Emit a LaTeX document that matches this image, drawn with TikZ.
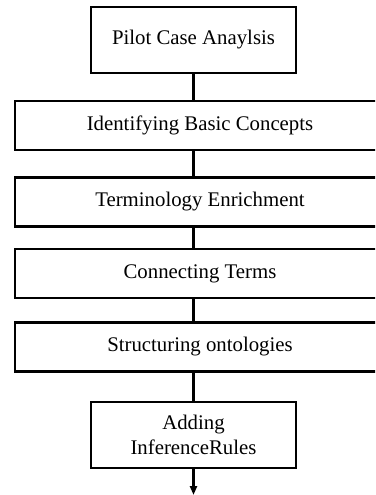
\documentclass[tikz,border=0pt]{standalone}
\usepackage{fontspec}
\setmainfont{Liberation Serif}
\usetikzlibrary{arrows.meta}

\tikzset{
  stage/.style={draw=black, line width=2.6pt, fill=white, inner sep=0pt,
    align=center, font=\fontsize{20.8}{25}\selectfont},
  narrowstage/.style={stage, minimum width=205pt, minimum height=66pt},
  widestage/.style={stage, minimum width=370pt, minimum height=49pt},
  link/.style={draw=black, line width=2.2pt},
  outlink/.style={link, -{Triangle[length=9pt,width=7pt]}}
}

\begin{document}
\begin{tikzpicture}[x=1pt, y=-1pt]
  \useasboundingbox (0,0) rectangle (375,495);
  \clip (0,0) rectangle (375,495);

  % process stages, top to bottom
  \node[narrowstage] (pilot)  at (193.5,40)  {Pilot Case Anaylsis};
  \node[widestage]   (ident)  at (200,125.5) {Identifying Basic Concepts};
  \node[widestage]   (term)   at (200,202)   {Terminology Enrichment};
  \node[widestage]   (conn)   at (200,273.5) {Connecting Terms};
  \node[widestage]   (struct) at (200,347)   {Structuring ontologies};
  \node[narrowstage] (infer)  at (193.5,435) {Adding\\InferenceRules};
  \coordinate (out) at (193,495);

  % links between consecutive stages
  \draw[link] (pilot.south) -- (pilot.south |- ident.north);
  \draw[link] (pilot.south |- ident.south) -- (pilot.south |- term.north);
  \draw[link] (pilot.south |- term.south) -- (pilot.south |- conn.north);
  \draw[link] (pilot.south |- conn.south) -- (pilot.south |- struct.north);
  \draw[link] (pilot.south |- struct.south) -- (infer.north);
  \draw[outlink] (infer.south) -- (infer.south |- out);
\end{tikzpicture}
\end{document}
